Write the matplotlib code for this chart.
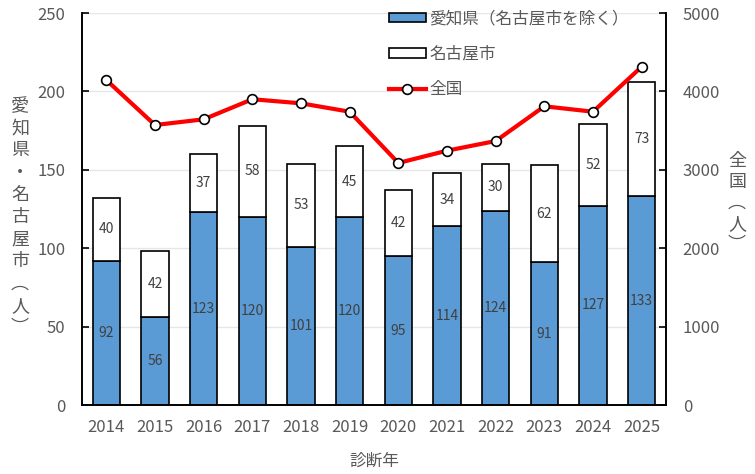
import numpy as np
import matplotlib
matplotlib.use('Agg')
import matplotlib.pyplot as plt

plt.rcParams['font.family'] = ['Noto Sans CJK JP', 'DejaVu Sans']

#  data
years = ['2014', '2015', '2016', '2017', '2018', '2019', '2020', '2021', '2022', '2023', '2024', '2025']
aichi = [92, 56, 123, 120, 101, 120, 95, 114, 124, 91, 127, 133]
nagoya = [40, 42, 37, 58, 53, 45, 42, 34, 30, 62, 52, 73]
zenkoku = [4145, 3571, 3644, 3900, 3848, 3741, 3087, 3244, 3367, 3810, 3741, 4315]

txt = '#595959'
fig = plt.figure(figsize=(7.55, 4.74), dpi=100)
ax = fig.add_axes([82 / 755, 69 / 474, 584 / 755, 392 / 474])
ax2 = ax.twinx()

x = np.arange(len(years))
w = 0.56
b1 = ax.bar(x, aichi, w, color='#5B9BD5', edgecolor='black', linewidth=1.2,
            label='愛知県（名古屋市を除く）', zorder=2)
b2 = ax.bar(x, nagoya, w, bottom=aichi, color='white', edgecolor='black',
            linewidth=1.2, label='名古屋市', zorder=2)
ax.bar_label(b1, label_type='center', fontsize=10, color='#404040')
ax.bar_label(b2, label_type='center', fontsize=10, color='#404040')

ln, = ax2.plot(x, zenkoku, color='red', linewidth=3, marker='o', markersize=7,
               markerfacecolor='white', markeredgecolor='black',
               markeredgewidth=1.2, label='全国', zorder=3)

ax.set_ylim(0, 250)
ax.set_yticks(range(0, 251, 50))
ax2.set_ylim(0, 5000)
ax2.set_yticks(range(0, 5001, 1000))
ax.set_xlim(-0.5, len(years) - 0.5)
ax.set_xticks(x)
ax.set_xticklabels(years)
ax.yaxis.grid(True, color='#E6E6E6', linewidth=1, zorder=0)
ax.set_axisbelow(True)

for a in (ax, ax2):
    a.spines['top'].set_visible(False)
    for s in ('left', 'right', 'bottom'):
        a.spines[s].set_color('black')
        a.spines[s].set_linewidth(1.2)
    a.tick_params(labelsize=12, colors=txt, length=5, width=1.2, direction='in')
    a.tick_params(axis='y', color='black', pad=12)
ax.tick_params(axis='x', length=0, pad=10)

ax.set_xlabel('診断年', fontsize=12, color=txt, labelpad=12)
fig.text(20 / 755, 1 - 217 / 474, '\n'.join('愛知県・名古屋市︵人︶'), fontsize=13,
         color=txt, ha='center', va='center', linespacing=1.3)
fig.text(737 / 755, 1 - 203 / 474, '\n'.join('全国︵人︶'), fontsize=13,
         color=txt, ha='center', va='center', linespacing=1.2)

ax.legend([b1, b2, ln], ['愛知県（名古屋市を除く）', '名古屋市', '全国'],
          loc='upper left', bbox_to_anchor=(0.50, 1.045), frameon=False,
          fontsize=12, labelcolor=txt, handlelength=2.2, handleheight=0.5,
          handletextpad=0.2, labelspacing=1.1)

fig.savefig('out.png', dpi=100)
